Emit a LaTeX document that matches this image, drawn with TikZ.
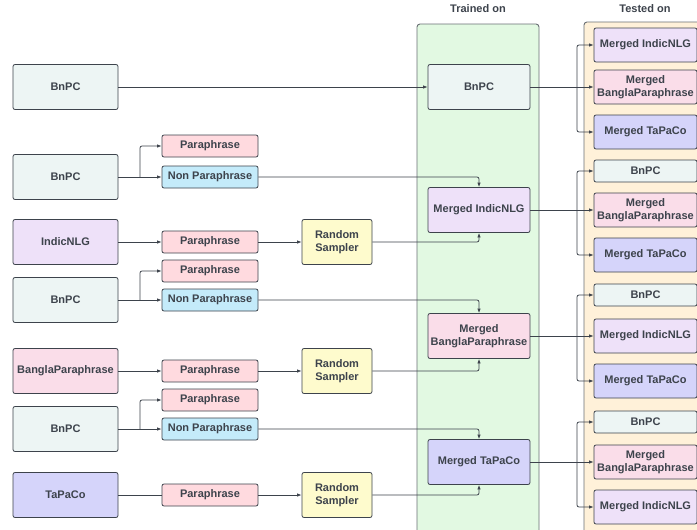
\documentclass[tikz,border=0pt]{standalone}
\usepackage{fontspec}
\setmainfont{Liberation Sans}
\usetikzlibrary{arrows.meta}
\definecolor{boxink}{HTML}{3D434C}
\definecolor{panelink}{HTML}{6A7075}
\definecolor{bnpcfill}{HTML}{EDF5F4}
\definecolor{indicfill}{HTML}{EEE1F9}
\definecolor{banglafill}{HTML}{FADDE9}
\definecolor{tapacofill}{HTML}{D5D4FA}
\definecolor{parafill}{HTML}{FFDADF}
\definecolor{nonparafill}{HTML}{C4EBFA}
\definecolor{samplerfill}{HTML}{FEFBCD}
\definecolor{trainfill}{HTML}{E2F9E2}
\definecolor{testfill}{HTML}{FFF1D9}

\begin{document}
\begin{tikzpicture}[x=1pt,y=-1pt,
  font=\fontsize{11}{12.5}\selectfont\bfseries,
  point/.style={coordinate},
  block/.style={draw=boxink, line width=0.8pt, rounded corners=2pt, rectangle, align=center, inner sep=1pt, text=boxink},
  src/.style={block, minimum width=105pt, minimum height=45pt},
  mid/.style={block, minimum width=96pt, minimum height=22pt, fill=parafill},
  sampler/.style={block, minimum width=70pt, minimum height=45pt, fill=samplerfill},
  trained/.style={block, minimum width=102pt, minimum height=45pt},
  tested/.style={block, minimum width=103pt, minimum height=34pt},
  testedlow/.style={block, minimum width=103pt, minimum height=22pt},
  panel/.style={draw=panelink, line width=0.9pt, rounded corners=3pt},
  title/.style={text=boxink},
  link/.style={draw=boxink, line width=0.8pt, rounded corners=2pt, -{Latex[length=4.5pt,width=3.5pt]}},
  plain/.style={draw=boxink, line width=0.8pt}]
\useasboundingbox (0,0) rectangle (697,530);
\fill[white] (0,0) rectangle (697,530);

\draw[panel, fill=trainfill] (417,24) rectangle (539,560);
\draw[panel, fill=testfill] (584,22) rectangle (720,560);
\node[title] (trainhead) at (478,9) {Trained on};
\node[title] (testhead) at (645,9) {Tested on};

\node[src, fill=bnpcfill] (s1) at (65.5,87) {BnPC};
\node[src, fill=bnpcfill] (s2) at (65.5,177) {BnPC};
\node[src, fill=indicfill] (s3) at (65.5,242) {IndicNLG};
\node[src, fill=bnpcfill] (s4) at (65.5,300) {BnPC};
\node[src, fill=banglafill] (s5) at (65.5,371) {BanglaParaphrase};
\node[src, fill=bnpcfill] (s6) at (65.5,429) {BnPC};
\node[src, fill=tapacofill] (s7) at (65.5,495) {TaPaCo};

\node[mid] (p1) at (210,146) {Paraphrase};
\node[mid, fill=nonparafill] (n1) at (210,177) {Non Paraphrase};
\node[mid] (p2) at (210,242) {Paraphrase};
\node[mid] (p3) at (210,271) {Paraphrase};
\node[mid, fill=nonparafill] (n2) at (210,300) {Non Paraphrase};
\node[mid] (p4) at (210,371) {Paraphrase};
\node[mid] (p5) at (210,400) {Paraphrase};
\node[mid, fill=nonparafill] (n3) at (210,429) {Non Paraphrase};
\node[mid] (p6) at (210,495) {Paraphrase};

\node[sampler] (r1) at (337,242) {Random\\Sampler};
\node[sampler] (r2) at (337,371) {Random\\Sampler};
\node[sampler] (r3) at (337,495) {Random\\Sampler};

\node[trained, fill=bnpcfill] (t1) at (479,87) {BnPC};
\node[trained, fill=indicfill] (t2) at (479,210) {Merged IndicNLG};
\node[trained, fill=banglafill] (t3) at (479,336) {Merged\\BanglaParaphrase};
\node[trained, fill=tapacofill] (t4) at (479,462) {Merged TaPaCo};

\node[tested, fill=indicfill] (e11) at (645.5,45) {Merged IndicNLG};
\node[tested, fill=banglafill] (e12) at (645.5,87) {Merged\\BanglaParaphrase};
\node[tested, fill=tapacofill] (e13) at (645.5,132) {Merged TaPaCo};
\node[testedlow, fill=bnpcfill] (e21) at (645.5,171) {BnPC};
\node[tested, fill=banglafill] (e22) at (645.5,210) {Merged\\BanglaParaphrase};
\node[tested, fill=tapacofill] (e23) at (645.5,255) {Merged TaPaCo};
\node[testedlow, fill=bnpcfill] (e31) at (645.5,295) {BnPC};
\node[tested, fill=indicfill] (e32) at (645.5,336) {Merged IndicNLG};
\node[tested, fill=tapacofill] (e33) at (645.5,381) {Merged TaPaCo};
\node[testedlow, fill=bnpcfill] (e41) at (645.5,422) {BnPC};
\node[tested, fill=banglafill] (e42) at (645.5,462) {Merged\\BanglaParaphrase};
\node[tested, fill=indicfill] (e43) at (645.5,507) {Merged IndicNLG};

\node[point] (j1) at (140,177) {};
\node[point] (j2) at (140,300) {};
\node[point] (j3) at (140,429) {};
\node[point] (k1) at (577,87) {};
\node[point] (k2) at (577,210) {};
\node[point] (k3) at (577,336) {};
\node[point] (k4) at (577,462) {};

\draw[link] (s1) -- (t1);
\draw[link] (s2) -- (n1);
\draw[link] (j1) |- (p1);
\draw[link] (n1) -| (t2);
\draw[link] (s3) -- (p2);
\draw[link] (p2) -- (r1);
\draw[link] (r1) -| (t2);
\draw[link] (s4) -- (n2);
\draw[link] (j2) |- (p3);
\draw[link] (n2) -| (t3);
\draw[link] (s5) -- (p4);
\draw[link] (p4) -- (r2);
\draw[link] (r2) -| (t3);
\draw[link] (s6) -- (n3);
\draw[link] (j3) |- (p5);
\draw[link] (n3) -| (t4);
\draw[plain] (s7) -- (p6);
\draw[link] (p6) -- (r3);
\draw[link] (r3) -| (t4);

\draw[link] (t1) -- (e12);
\draw[link] (k1) |- (e11);
\draw[link] (k1) |- (e13);
\draw[link] (t2) -- (e22);
\draw[link] (k2) |- (e21);
\draw[link] (k2) |- (e23);
\draw[link] (t3) -- (e32);
\draw[link] (k3) |- (e31);
\draw[link] (k3) |- (e33);
\draw[link] (t4) -- (e42);
\draw[link] (k4) |- (e41);
\draw[link] (k4) |- (e43);
\end{tikzpicture}
\end{document}
